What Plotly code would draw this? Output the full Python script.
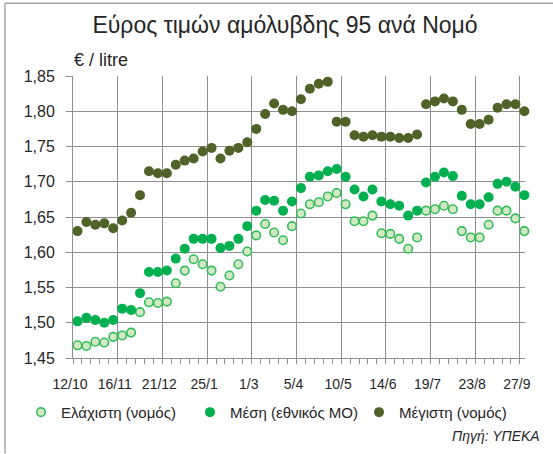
import plotly.graph_objects as go
import pandas as pd

# ---- data ----
dates = ["2009-10-12", "2009-10-19", "2009-10-26", "2009-11-02", "2009-11-09",
         "2009-11-16", "2009-11-23", "2009-11-30", "2009-12-07", "2009-12-14",
         "2009-12-21", "2009-12-28", "2010-01-04", "2010-01-11", "2010-01-18",
         "2010-01-25", "2010-02-01", "2010-02-08", "2010-02-15", "2010-02-22",
         "2010-03-01", "2010-03-08", "2010-03-15", "2010-03-22", "2010-03-29",
         "2010-04-05", "2010-04-12", "2010-04-19", "2010-04-26", "2010-05-03",
         "2010-05-10", "2010-05-17", "2010-05-24", "2010-05-31", "2010-06-07",
         "2010-06-14", "2010-06-21", "2010-06-28", "2010-07-05", "2010-07-12",
         "2010-07-19", "2010-07-26", "2010-08-02", "2010-08-09", "2010-08-16",
         "2010-08-23", "2010-08-30", "2010-09-06", "2010-09-13", "2010-09-20",
         "2010-09-27"]

min_prices = [1.468, 1.467, 1.473, 1.472, 1.480, 1.482, 1.486, 1.515, 1.529, 1.528,
              1.530, 1.556, 1.574, 1.590, 1.583, 1.574, 1.551, 1.567, 1.583, 1.601,
              1.624, 1.640, 1.628, 1.617, 1.637, 1.655, 1.668, 1.671, 1.679, 1.684,
              1.668, 1.644, 1.644, 1.652, 1.627, 1.626, 1.619, 1.605, 1.621, 1.659,
              1.661, 1.666, 1.661, 1.630, 1.621, 1.621, 1.639, 1.659, 1.659, 1.648,
              1.630]

mean_prices = [1.502, 1.507, 1.504, 1.500, 1.504, 1.520, 1.518, 1.542, 1.572, 1.572,
               1.574, 1.591, 1.605, 1.619, 1.619, 1.619, 1.606, 1.609, 1.619, 1.637,
               1.659, 1.674, 1.673, 1.659, 1.672, 1.691, 1.707, 1.709, 1.715, 1.718,
               1.707, 1.689, 1.679, 1.689, 1.672, 1.668, 1.666, 1.652, 1.659, 1.699,
               1.707, 1.713, 1.708, 1.680, 1.668, 1.668, 1.678, 1.697, 1.700, 1.693,
               1.681]

max_prices = [1.630, 1.643, 1.639, 1.641, 1.634, 1.645, 1.656, 1.681, 1.715, 1.712,
              1.712, 1.724, 1.730, 1.733, 1.743, 1.748, 1.733, 1.744, 1.748, 1.756,
              1.775, 1.796, 1.811, 1.802, 1.800, 1.817, 1.832, 1.839, 1.842, 1.785,
              1.785, 1.766, 1.764, 1.766, 1.764, 1.764, 1.762, 1.762, 1.767, 1.810,
              1.814, 1.818, 1.814, 1.802, 1.782, 1.782, 1.788, 1.805, 1.810, 1.810,
              1.800]

tick_dates = ["2009-10-12", "2009-11-16", "2009-12-21", "2010-01-25", "2010-03-01",
              "2010-04-05", "2010-05-10", "2010-06-14", "2010-07-19", "2010-08-23",
              "2010-09-27"]
tick_labels = ["12/10", "16/11", "21/12", "25/1", "1/3", "5/4", "10/5", "14/6",
               "19/7", "23/8", "27/9"]

series_names = ["Ελάχιστη (νομός)", "Μέση (εθνικός ΜΟ)", "Μέγιστη (νομός)"]

# ---- styling ----
FONT = "Liberation Sans"
TXT = "#262626"
GRID = "#8f8f8f"
half_week = pd.Timedelta(days=3.5)

tickvals = [(pd.Timestamp(d) - half_week).strftime("%Y-%m-%d %H:%M") for d in tick_dates]
x_start = (pd.Timestamp(dates[0]) - half_week).strftime("%Y-%m-%d %H:%M")
x_end = (pd.Timestamp(dates[-1]) + pd.Timedelta(hours=12)).strftime("%Y-%m-%d %H:%M")

fig = go.Figure()
fig.add_trace(go.Scatter(
    x=dates, y=min_prices, mode="markers", name=series_names[0], cliponaxis=False,
    marker=dict(size=8.5, color="#d3e9c6", line=dict(color="#34bd5a", width=1.6))))
fig.add_trace(go.Scatter(
    x=dates, y=mean_prices, mode="markers", name=series_names[1], cliponaxis=False,
    marker=dict(size=10, color="#00b050", line=dict(width=0))))
fig.add_trace(go.Scatter(
    x=dates, y=max_prices, mode="markers", name=series_names[2], cliponaxis=False,
    marker=dict(size=10, color="#4f6228", line=dict(width=0))))

W, H = 553, 454
L, R, T, B = 73, 28, 76, 95.5
pw, ph = W - L - R, H - T - B

def px(xp):
    return (xp - L) / pw

def py(yp):
    return (H - B - yp) / ph

fig.update_layout(
    width=W, height=H,
    margin=dict(l=L, r=R, t=T, b=B, pad=0),
    paper_bgcolor="white", plot_bgcolor="white",
    separators=",.",
    font=dict(family=FONT, size=13, color=TXT),
    title=dict(text="Εύρος τιμών αμόλυβδης 95 ανά Νομό", x=285 / W, xanchor="center",
               y=1 - 25 / H, yanchor="middle", font=dict(size=23, color=TXT)),
    showlegend=True,
    legend=dict(orientation="h", x=px(21), xanchor="left", y=py(413), yanchor="middle",
                font=dict(size=15, color=TXT), bgcolor="rgba(0,0,0,0)",
                entrywidthmode="pixels", entrywidth=124, itemwidth=30,
                traceorder="normal"),
    xaxis=dict(type="date", range=[x_start, x_end], tickmode="array",
               tickvals=tickvals, ticktext=tick_labels,
               showgrid=True, gridcolor=GRID, gridwidth=1,
               showline=True, linecolor=GRID, linewidth=1,
               ticks="outside", ticklen=5, tickcolor=GRID, tickwidth=1,
               tickfont=dict(size=14, color=TXT), ticklabelstandoff=8,
               ticklabelshift=-3,
               minor=dict(ticks="outside", ticklen=5, tickcolor=GRID, tickwidth=1,
                          dtick=7 * 86400000, tick0=x_start, showgrid=False),
               zeroline=False, fixedrange=True),
    yaxis=dict(range=[1.45, 1.85], dtick=0.05, tick0=1.45, tickformat=".2f",
               showgrid=True, gridcolor=GRID, gridwidth=1,
               showline=True, linecolor=GRID, linewidth=1,
               ticks="outside", ticklen=6, tickcolor=GRID, tickwidth=1,
               tickfont=dict(size=16, color=TXT), ticklabelstandoff=8,
               zeroline=False, fixedrange=True),
    annotations=[
        dict(text="€ / litre", xref="paper", yref="paper", x=px(72), y=py(60),
             xanchor="left", yanchor="middle", showarrow=False,
             font=dict(size=18, color=TXT)),
        dict(text="<i>Πηγή: ΥΠΕΚΑ</i>", xref="paper", yref="paper", x=px(542), y=py(437),
             xanchor="right", yanchor="middle", showarrow=False,
             font=dict(size=14, color=TXT)),
    ],
    shapes=[
        dict(type="line", xref="paper", yref="paper", x0=px(5), x1=px(5), y0=py(3), y1=py(454),
             line=dict(color="#a6a6a6", width=1.5)),
        dict(type="line", xref="paper", yref="paper", x0=px(5), x1=px(553), y0=py(3), y1=py(3),
             line=dict(color="#a6a6a6", width=1.5)),
    ],
)

fig.write_html("out.html",
               config={"displayModeBar": False, "staticPlot": True},
               post_script="document.body.style.margin='0px';document.body.style.overflow='hidden';")
